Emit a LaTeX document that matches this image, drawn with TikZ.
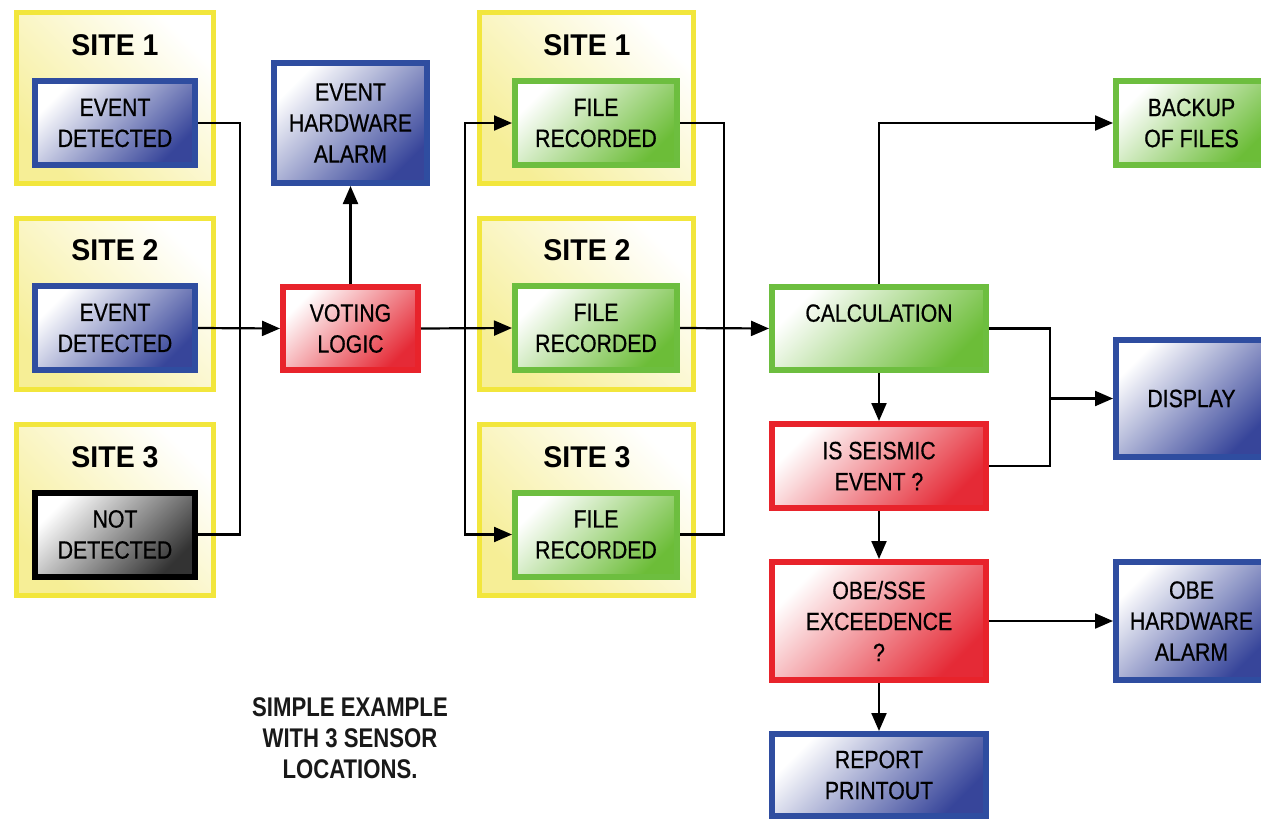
\documentclass[tikz,border=0pt]{standalone}
\usepackage{fontspec}
\setmainfont{Liberation Sans}
\newfontfamily\boxfont[FakeStretch=0.85,FakeBold=0.6]{Liberation Sans}
\newfontfamily\notefont[FakeStretch=0.82]{Liberation Sans}
\newfontfamily\sitefont[FakeStretch=0.95]{Liberation Sans}
\usetikzlibrary{arrows.meta}
\definecolor{bblue}{HTML}{2F4DA0}
\definecolor{bbluef}{HTML}{37459A}
\definecolor{rred}{HTML}{E8232B}
\definecolor{rredf}{HTML}{E52A36}
\definecolor{ggreen}{HTML}{6DBE3F}
\definecolor{ggreenf}{HTML}{6CBD38}
\definecolor{yyel}{HTML}{F2E63C}
\definecolor{yyelf}{HTML}{F6EE96}
\tikzset{
  box/.style={rectangle, inner sep=0pt, line width=6pt, align=center,
    font=\boxfont\fontsize{25}{31}\selectfont, text=black},
  bluebox/.style={box, draw=bblue, top color=white, bottom color=bbluef, shading angle=45},
  redbox/.style={box, draw=rred, top color=white, bottom color=rredf, shading angle=45},
  greenbox/.style={box, draw=ggreen, top color=white, bottom color=ggreenf, shading angle=45},
  blackbox/.style={box, draw=black, top color=white, bottom color=black!80, shading angle=45},
  sitebox/.style={rectangle, inner sep=0pt, line width=5pt, draw=yyel,
    top color=white, bottom color=yyelf, shading angle=-45,
    minimum width=197pt, minimum height=171pt},
  sitebox2/.style={sitebox, minimum width=214pt},
  sitelabel/.style={font=\sitefont\bfseries\fontsize{30}{32}\selectfont, text=black},
  ln/.style={line width=2.2pt, draw=black},
  arr/.style={ln, -{Triangle[length=18pt,width=15pt]}},
  note/.style={align=center, font=\notefont\bfseries\fontsize{27}{31}\selectfont, text=black!90}
}
\begin{document}
\begin{tikzpicture}[x=1pt,y=-1pt]
\clip (0,0) rectangle (1261,819);
\fill[white] (0,0) rectangle (1261,819);
% left sites
\node[sitebox] (s1) at (115,98) {};
\node[sitebox] (s2) at (115,304) {};
\node[sitebox] (s3) at (115,509.5) {};
\node[sitelabel] (s1l) at (115,45) {SITE 1};
\node[sitelabel] (s2l) at (115,250) {SITE 2};
\node[sitelabel] (s3l) at (115,457) {SITE 3};
\node[bluebox, minimum width=160pt, minimum height=84pt] (ev1) at (115,123) {EVENT\\DETECTED};
\node[bluebox, minimum width=160pt, minimum height=84pt] (ev2) at (115,328) {EVENT\\DETECTED};
\node[blackbox, minimum width=160pt, minimum height=84pt] (ev3) at (115,534.5) {NOT\\DETECTED};
% voting and alarm
\node[bluebox, minimum width=153pt, minimum height=120pt] (alarm) at (350.5,123) {EVENT\\HARDWARE\\ALARM};
\node[redbox, minimum width=135pt, minimum height=83pt] (vote) at (350.5,328.5) {VOTING\\LOGIC};
% middle sites
\node[sitebox2] (m1) at (586.5,98) {};
\node[sitebox2] (m2) at (586.5,304) {};
\node[sitebox2] (m3) at (586.5,509.5) {};
\node[sitelabel] (m1l) at (587,45) {SITE 1};
\node[sitelabel] (m2l) at (587,250) {SITE 2};
\node[sitelabel] (m3l) at (587,457) {SITE 3};
\node[greenbox, minimum width=162pt, minimum height=84pt] (f1) at (596,123) {FILE\\RECORDED};
\node[greenbox, minimum width=162pt, minimum height=84pt] (f2) at (596,328) {FILE\\RECORDED};
\node[greenbox, minimum width=162pt, minimum height=84pt] (f3) at (596,534.5) {FILE\\RECORDED};
% right column
\node[greenbox, minimum width=214pt, minimum height=83pt] (calc) at (879,328.5) {CALCULATION\\\phantom{X}};
\node[redbox, minimum width=214pt, minimum height=84pt] (seis) at (879,466) {IS SEISMIC\\EVENT ?};
\node[redbox, minimum width=214pt, minimum height=118pt] (obe) at (879,621) {OBE/SSE\\EXCEEDENCE\\?};
\node[bluebox, minimum width=214pt, minimum height=82pt] (rep) at (879,775) {REPORT\\PRINTOUT};
\node[greenbox, minimum width=151pt, minimum height=84pt] (bak) at (1191.5,123) {BACKUP\\OF FILES};
\node[bluebox, minimum width=151pt, minimum height=117pt] (disp) at (1191.5,398.5) {DISPLAY};
\node[bluebox, minimum width=151pt, minimum height=118pt] (obehw) at (1191.5,621) {OBE\\HARDWARE\\ALARM};
% note
\node[note] (txt) at (350,738) {SIMPLE EXAMPLE\\WITH 3 SENSOR\\LOCATIONS.};
% connectors
\coordinate (j1) at (240,328);
\draw[ln] (ev1.east) -| (j1);
\draw[ln] (ev3.east) -| (j1);
\draw[arr] (ev2.east) -- (vote.west);
\draw[arr] (vote.north) -- (alarm.south);
\coordinate (j2) at (465,328.5);
\draw[arr] (vote.east) -- (f2.west);
\draw[arr] (j2) |- (f1.west);
\draw[arr] (j2) |- (f3.west);
\coordinate (j3) at (724,328);
\draw[ln] (f1.east) -| (j3);
\draw[ln] (f3.east) -| (j3);
\draw[arr] (f2.east) -- (calc.west);
\draw[arr] (calc.north) |- (bak.west);
\coordinate (j4) at (1050,398.5);
\draw[ln] (calc.east) -| (j4);
\draw[ln] (seis.east) -| (j4);
\draw[arr] (j4) -- (disp.west);
\draw[arr] (calc.south) -- (seis.north);
\draw[arr] (seis.south) -- (obe.north);
\draw[arr] (obe.east) -- (obehw.west);
\draw[arr] (obe.south) -- (rep.north);
\end{tikzpicture}
\end{document}
